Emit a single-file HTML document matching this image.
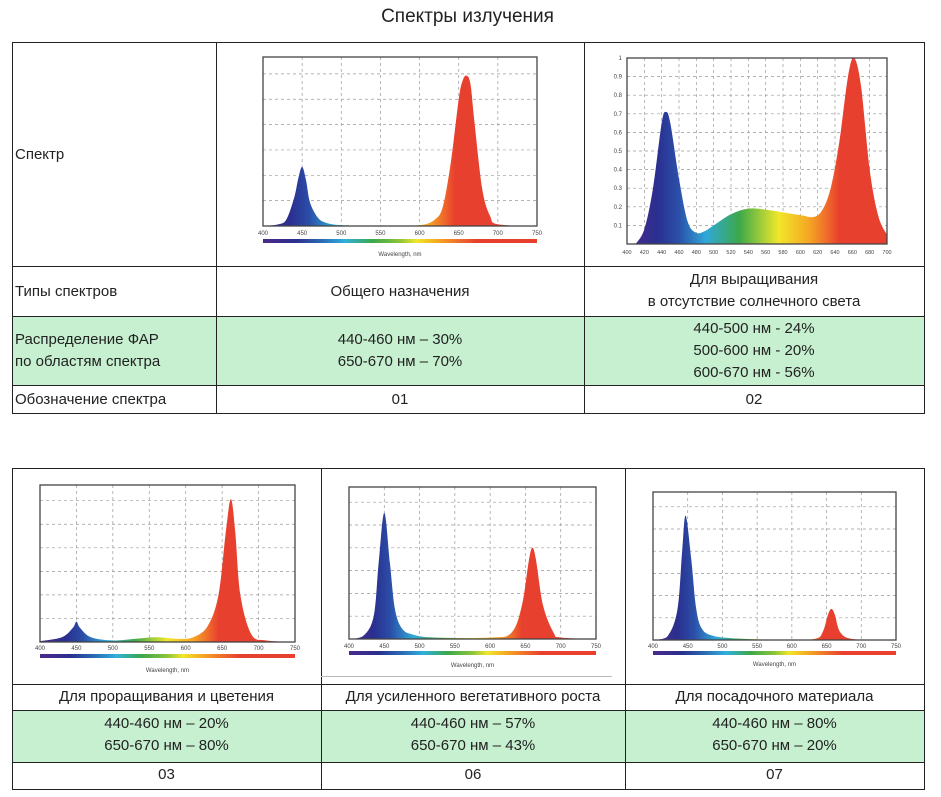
<!DOCTYPE html>
<html><head><meta charset="utf-8">
<style>
body{margin:0;width:941px;height:797px;background:#fff;position:relative;font-family:"Liberation Sans","Noto Sans CJK SC",sans-serif;color:#222;overflow:hidden}
.a{position:absolute;box-sizing:border-box}
.t{font-size:15px;line-height:22px}
.c{text-align:center}
.g{background:#c6f0cf}
.b{border:1px solid #222}
#svg{position:absolute;left:0;top:0}
</style></head><body>
<div class="a c" style="left:0;width:935px;top:6px;font-size:19px">Спектры излучения</div>

<!-- table 1 -->
<div class="a g" style="left:12px;top:316px;width:912px;height:69px"></div>
<div class="a b" style="left:12px;top:42px;width:913px;height:372px"></div>
<div class="a" style="left:12px;top:266px;width:912px;border-top:1px solid #222"></div>
<div class="a" style="left:12px;top:316px;width:912px;border-top:1px solid #222"></div>
<div class="a" style="left:12px;top:385px;width:912px;border-top:1px solid #222"></div>
<div class="a" style="left:216px;top:42px;height:371px;border-left:1px solid #222"></div>
<div class="a" style="left:584px;top:42px;height:371px;border-left:1px solid #222"></div>
<div class="a t" style="left:15px;top:144px">Спектр</div>
<div class="a t" style="left:15px;top:281px">Типы спектров</div>
<div class="a t c" style="left:216px;width:368px;top:281px">Общего назначения</div>
<div class="a t c" style="left:584px;width:340px;top:269px">Для выращивания<br>в отсутствие солнечного света</div>
<div class="a t" style="left:15px;top:329px">Распределение ФАР<br>по областям спектра</div>
<div class="a t c" style="left:216px;width:368px;top:329px">440-460 нм – 30%<br>650-670 нм – 70%</div>
<div class="a t c" style="left:584px;width:340px;top:318px">440-500 нм - 24%<br>500-600 нм - 20%<br>600-670 нм - 56%</div>
<div class="a t" style="left:15px;top:389px">Обозначение спектра</div>
<div class="a t c" style="left:216px;width:368px;top:389px">01</div>
<div class="a t c" style="left:584px;width:340px;top:389px">02</div>

<!-- table 2 -->
<div class="a g" style="left:12px;top:710px;width:912px;height:52px"></div>
<div class="a b" style="left:12px;top:468px;width:913px;height:322px"></div>
<div class="a" style="left:12px;top:684px;width:912px;border-top:1px solid #222"></div>
<div class="a" style="left:12px;top:710px;width:912px;border-top:1px solid #222"></div>
<div class="a" style="left:12px;top:762px;width:912px;border-top:1px solid #222"></div>
<div class="a" style="left:321px;top:468px;height:321px;border-left:1px solid #222"></div>
<div class="a" style="left:625px;top:468px;height:321px;border-left:1px solid #222"></div>
<div class="a" style="left:321px;top:676px;width:291px;border-top:1px solid #bbb"></div>
<div class="a t c" style="left:12px;width:309px;top:686px">Для проращивания и цветения</div>
<div class="a t c" style="left:321px;width:304px;top:686px">Для усиленного вегетативного роста</div>
<div class="a t c" style="left:625px;width:299px;top:686px">Для посадочного материала</div>
<div class="a t c" style="left:12px;width:309px;top:713px">440-460 нм – 20%<br>650-670 нм – 80%</div>
<div class="a t c" style="left:321px;width:304px;top:713px">440-460 нм – 57%<br>650-670 нм – 43%</div>
<div class="a t c" style="left:625px;width:299px;top:713px">440-460 нм – 80%<br>650-670 нм – 20%</div>
<div class="a t c" style="left:12px;width:309px;top:764px">03</div>
<div class="a t c" style="left:321px;width:304px;top:764px">06</div>
<div class="a t c" style="left:625px;width:299px;top:764px">07</div>

<svg id="svg" width="941" height="797" xmlns="http://www.w3.org/2000/svg">
<defs>
<linearGradient id="spec" x1="0" x2="1" y1="0" y2="0">
<stop offset="0" stop-color="#4a2a8c"/><stop offset="0.12" stop-color="#2a2f8f"/><stop offset="0.22" stop-color="#2a6fb8"/><stop offset="0.3" stop-color="#30b0dc"/><stop offset="0.4" stop-color="#3ca84a"/><stop offset="0.5" stop-color="#8cc43a"/><stop offset="0.56" stop-color="#f1e62a"/><stop offset="0.64" stop-color="#f5a623"/><stop offset="0.72" stop-color="#ee6a2c"/><stop offset="0.78" stop-color="#e8402e"/><stop offset="1" stop-color="#e8402e"/>
</linearGradient>
</defs>
</svg>
<script>
// chart 01
const wl1=[400,420,430,440,445,450,455,460,470,480,500,550,600,620,630,640,650,655,660,665,670,680,690,700,750];
const v1=[0,0.01,0.04,0.17,0.28,0.35,0.27,0.14,0.05,0.02,0.005,0,0.005,0.04,0.12,0.38,0.75,0.86,0.89,0.84,0.62,0.22,0.06,0.01,0];
// chart 02
const wl2=[410,420,430,440,445,450,460,470,480,490,500,520,540,560,580,600,615,625,635,645,655,662,670,680,690,700];
const v2=[0,0.08,0.3,0.65,0.71,0.65,0.35,0.12,0.06,0.07,0.1,0.16,0.19,0.185,0.17,0.155,0.145,0.18,0.3,0.55,0.9,1.0,0.85,0.4,0.15,0.05];
// chart 03
const wl3=[400,430,445,450,455,470,500,530,560,590,610,630,645,655,662,668,675,690,710,750];
const v3=[0.005,0.03,0.09,0.13,0.09,0.03,0.01,0.02,0.03,0.02,0.03,0.1,0.3,0.7,0.91,0.7,0.3,0.05,0.01,0];
// chart 06
const wl4=[400,420,435,442,450,458,465,475,490,520,600,630,645,655,660,665,675,690,700,750];
const v4=[0,0.02,0.15,0.5,0.83,0.5,0.2,0.07,0.03,0.01,0.01,0.04,0.22,0.52,0.6,0.52,0.22,0.04,0.01,0];
// chart 07
const wl5=[400,420,435,442,447,455,462,470,485,520,600,635,645,652,657,662,670,690,750];
const v5=[0,0.02,0.2,0.6,0.84,0.55,0.22,0.08,0.03,0.01,0,0.01,0.06,0.17,0.21,0.17,0.05,0.005,0];
const ticks1=[400,450,500,550,600,650,700,750];
const ticks2=[400,420,440,460,480,500,520,540,560,580,600,620,640,660,680,700];
const yTicks2=[0.1,0.2,0.3,0.4,0.5,0.6,0.7,0.8,0.9,1];

const svg=document.getElementById('svg');
const NS='http://www.w3.org/2000/svg';
function mk(tag,attrs){const e=document.createElementNS(NS,tag);for(const k in attrs)e.setAttribute(k,attrs[k]);svg.appendChild(e);return e;}
function chart(name,c,wl,v,xt){
  const sx=w=>c.x0+(w-c.d0)/(c.d1-c.d0)*(c.x1-c.x0);
  const sy=y=>c.y1-y*(c.y1-c.y0);
  for(const t of xt){if(t>c.d0&&t<c.d1){const l=mk('line',{x1:sx(t),x2:sx(t),y1:c.y0,y2:c.y1,stroke:'#999','stroke-dasharray':'3,3','stroke-width':0.7});
  
  }}
  const hs=c.hs||[];
  for(const h of hs){const l=mk('line',{x1:c.x0,x2:c.x1,y1:sy(h),y2:sy(h),stroke:'#999','stroke-dasharray':'3,3','stroke-width':0.7});
  
  }
  const P=wl.map((w,i)=>[sx(w),sy(v[i])]);
  let d='M'+P[0][0]+','+c.y1+' L'+P[0][0]+','+P[0][1];
  for(let i=0;i<P.length-1;i++){const p0=P[Math.max(0,i-1)],p1=P[i],p2=P[i+1],p3=P[Math.min(P.length-1,i+2)];
    d+=' C'+(p1[0]+(p2[0]-p0[0])/6)+','+Math.min(c.y1,p1[1]+(p2[1]-p0[1])/6)+' '+(p2[0]-(p3[0]-p1[0])/6)+','+Math.min(c.y1,p2[1]-(p3[1]-p1[1])/6)+' '+p2[0]+','+p2[1];}
  d+=' L'+P[P.length-1][0]+','+c.y1+' Z';
  const gid='g'+name;
  const lg=mk('linearGradient',{id:gid,gradientUnits:'userSpaceOnUse',x1:sx(400),x2:sx(750),y1:0,y2:0});
  [[0,'#4a2a8c'],[0.1,'#2a2f8f'],[0.17,'#2b4fa8'],[0.26,'#30a8d8'],[0.37,'#3ca84a'],[0.44,'#9ccc3a'],[0.5,'#f1e62a'],[0.6,'#f5a623'],[0.66,'#ef6a2c'],[0.7,'#e8402e'],[1,'#e8402e']].forEach(s=>{const st=document.createElementNS(NS,'stop');st.setAttribute('offset',s[0]);st.setAttribute('stop-color',s[1]);lg.appendChild(st);});
  const a=mk('path',{d:d,fill:'url(#'+gid+')'});
  
  
  const f=mk('rect',{x:c.x0,y:c.y0,width:c.x1-c.x0,height:c.y1-c.y0,fill:'none',stroke:'#444','stroke-width':1.3});
  
  
  for(const t of xt){const tx=mk('text',{x:sx(t),y:c.ly,'font-size':c.fs||6,'text-anchor':'middle',fill:'#444','font-family':'Liberation Sans'});tx.textContent=t;
  
  }
  if(c.yt){for(const t of c.yt){const tx=mk('text',{x:c.x0-5,y:sy(t)+2,'font-size':6,'text-anchor':'end',fill:'#444','font-family':'Liberation Sans'});tx.textContent=t;
  
  }}
  if(c.by){const b=mk('rect',{x:c.x0,y:c.by,width:c.x1-c.x0,height:4,fill:'url(#spec)'});
  
  
  const tx=mk('text',{x:(c.x0+c.x1)/2,y:c.wy,'font-size':6,'text-anchor':'middle',fill:'#444','font-family':'Liberation Sans'});tx.textContent='Wavelength, nm';
  
  }
}
const hs6=[0.15,0.3,0.45,0.6,0.75,0.9];
chart('01',{x0:263,x1:537,y0:57,y1:226,d0:400,d1:750,hs:hs6,ly:235,by:239,wy:256},wl1,v1,ticks1);
chart('02',{x0:627,x1:887,y0:58,y1:244,d0:400,d1:700,hs:yTicks2.slice(0,9),yt:yTicks2,ly:254,fs:5.5},wl2,v2,ticks2);
chart('03',{x0:40,x1:295,y0:485,y1:642,d0:400,d1:750,hs:hs6,ly:650,by:654,wy:672},wl3,v3,ticks1);
chart('06',{x0:349,x1:596,y0:487,y1:639,d0:400,d1:750,hs:hs6,ly:648,by:651,wy:667},wl4,v4,ticks1);
chart('07',{x0:653,x1:896,y0:492,y1:640,d0:400,d1:750,hs:hs6,ly:648,by:651,wy:666},wl5,v5,ticks1);
</script>
</body></html>
